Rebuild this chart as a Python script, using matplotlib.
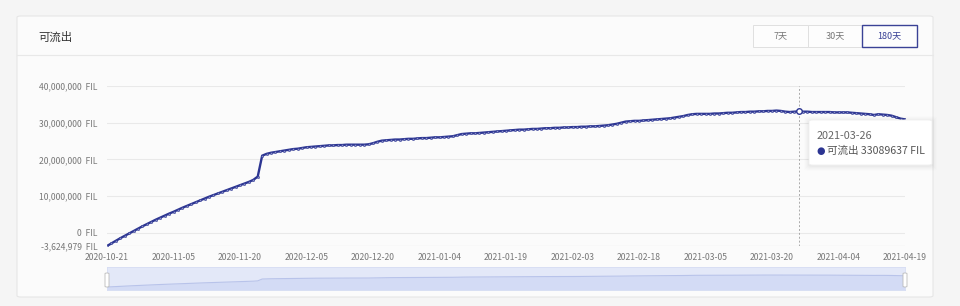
import matplotlib
matplotlib.use("Agg")
import matplotlib.pyplot as plt
from matplotlib.patches import FancyBboxPatch, Rectangle
import numpy as np
import pandas as pd

plt.rcParams['font.family'] = ['Noto Sans CJK SC', 'DejaVu Sans']

# daily values, millions of FIL, 2020-10-21 .. 2021-04-19
start_date = '2020-10-21'
values_m = [
    -3.62, -2.9, -2.2, -1.5, -0.85, -0.2, 0.45, 1.1, 1.75, 2.35,
    2.95, 3.55, 4.1, 4.65, 5.2, 5.7, 6.25, 6.8, 7.3, 7.8,
    8.3, 8.8, 9.3, 9.8, 10.25, 10.7, 11.15, 11.6, 12.05, 12.5,
    12.95, 13.4, 13.85, 14.4, 15.3, 21.0, 21.5, 21.8, 22.0, 22.2,
    22.4, 22.6, 22.8, 22.9, 23.1, 23.3, 23.4, 23.5, 23.6, 23.7,
    23.8, 23.8, 23.9, 23.9, 24.0, 24.0, 24.0, 24.0, 24.0, 24.1,
    24.4, 24.8, 25.1, 25.2, 25.3, 25.4, 25.4, 25.5, 25.6, 25.6,
    25.7, 25.8, 25.8, 25.9, 26.0, 26.0, 26.1, 26.2, 26.3, 26.6,
    26.9, 27.0, 27.1, 27.1, 27.2, 27.3, 27.4, 27.5, 27.6, 27.7,
    27.8, 27.9, 28.0, 28.1, 28.1, 28.2, 28.3, 28.3, 28.4, 28.5,
    28.5, 28.6, 28.6, 28.7, 28.7, 28.8, 28.8, 28.9, 28.9, 29.0,
    29.0, 29.1, 29.2, 29.3, 29.5, 29.7, 30.0, 30.3, 30.4, 30.5,
    30.5, 30.6, 30.7, 30.8, 30.9, 31.0, 31.1, 31.2, 31.4, 31.6,
    31.8, 32.1, 32.3, 32.4, 32.4, 32.4, 32.4, 32.5, 32.5, 32.6,
    32.7, 32.7, 32.8, 32.9, 32.9, 33.0, 33.0, 33.1, 33.1, 33.2,
    33.2, 33.3, 33.2, 33.0, 32.9, 33.0, 33.089637, 33.0, 33.0, 32.9,
    32.9, 32.9, 32.9, 32.9, 32.8, 32.8, 32.8, 32.8, 32.7, 32.6,
    32.5, 32.4, 32.3, 32.1, 32.3, 32.2, 32.1, 31.9, 31.5, 31.1,
    30.9,
]
y_ticks = [-3624979, 0, 10000000, 20000000, 30000000, 40000000]
x_tick_dates = ['2020-10-21', '2020-11-05', '2020-11-20', '2020-12-05', '2020-12-20',
                '2021-01-04', '2021-01-19', '2021-02-03', '2021-02-18', '2021-03-05',
                '2021-03-20', '2021-04-04', '2021-04-19']
buttons = ['7天', '30天', '180天']
title = '可流出'
hover_date = '2021-03-26'
hover_value = 33089637

dates = pd.date_range(start_date, periods=len(values_m), freq='D')
vals = np.array(values_m) * 1e6
vals[0] = y_ticks[0]

W, H = 960, 306
fig = plt.figure(figsize=(9.6, 3.06), dpi=100)
fig.patch.set_facecolor('#f5f5f5')

def fx(x):
    return x / W

def fy(y):
    return 1 - y / H

# card
card = FancyBboxPatch((fx(17), fy(297)), fx(916), (297 - 16) / H,
                      boxstyle='round,pad=0,rounding_size=0.004',
                      transform=fig.transFigure, facecolor='#fbfbfb',
                      edgecolor='#e6e6e6', linewidth=0.8, zorder=-5)
fig.patches.append(card)
fig.add_artist(plt.Line2D([fx(17), fx(933)], [fy(55), fy(55)], color='#e8e8e8', lw=0.8,
                          transform=fig.transFigure, zorder=-4))
fig.text(fx(38), fy(37), title, fontsize=8.2, color='#333333', va='center', ha='left',
         weight='medium')

# range buttons
bx = [753, 808, 862]
bw = [55, 54, 55]
for i, lab in enumerate(buttons):
    active = lab == '180天'
    r = Rectangle((fx(bx[i]), fy(47)), fx(bw[i]), 22 / H, transform=fig.transFigure,
                  facecolor='#fdfdfd', edgecolor='#3a4296' if active else '#e0e0e0',
                  linewidth=1.0 if active else 0.7, zorder=3 if active else 2)
    fig.patches.append(r)
    fig.text(fx(bx[i] + bw[i] / 2), fy(36), lab, fontsize=6.5,
             color='#3a4296' if active else '#777777', ha='center', va='center', zorder=4)

# main chart
ax = fig.add_axes([fx(107), fy(246), fx(905 - 107), (246 - 86) / H])
ax.set_zorder(1)
ax.set_facecolor('none')
line_color = '#2c3592'
ax.plot(dates, vals, color=line_color, lw=1.7, marker='o', ms=1.6,
        mec=line_color, mfc='#8a90c8', mew=0.4, zorder=3)
ax.set_xlim(dates[0], dates[-1])
ax.set_ylim(y_ticks[0], y_ticks[-1])
ax.set_yticks(y_ticks)
ax.set_yticklabels([f'{v:,}  FIL' for v in y_ticks])
ax.set_xticks(pd.to_datetime(x_tick_dates))
ax.set_xticklabels(x_tick_dates)
ax.grid(axis='y', color='#e9e9e9', lw=0.8)
ax.tick_params(axis='both', length=0, labelsize=6.2, colors='#777777')
ax.tick_params(axis='y', pad=7)
ax.tick_params(axis='x', pad=5)
for s in ax.spines.values():
    s.set_visible(False)
ax.axhline(y_ticks[0], color='#dddddd', lw=0.8)

# hover crosshair + point
hd = pd.Timestamp(hover_date)
ax.axvline(hd, color='#aaaaaa', lw=0.7, ls=(0, (2, 2)))
ax.plot([hd], [hover_value], marker='o', ms=4, mfc='white', mec=line_color, mew=1, zorder=4)

# tooltip with soft shadow
for k, a in [(5, 0.008), (4, 0.01), (3, 0.012), (2, 0.015), (1, 0.018)]:
    fig.patches.append(FancyBboxPatch((fx(809 - k), fy(165 + k + 1)), fx(123 + 2 * k),
                                      (45 + 2 * k) / H,
                                      boxstyle='round,pad=0,rounding_size=0.006',
                                      transform=fig.transFigure, facecolor='black',
                                      alpha=a, lw=0, zorder=9))
tip = FancyBboxPatch((fx(809), fy(165)), fx(123), 45 / H,
                     boxstyle='round,pad=0,rounding_size=0.004',
                     transform=fig.transFigure, facecolor='white',
                     edgecolor='#efefef', linewidth=0.6, zorder=10)
fig.patches.append(tip)
fig.text(fx(817), fy(136), hover_date, fontsize=7.8, color='#666666', va='center', zorder=11)
fig.text(fx(816), fy(151), '●', fontsize=7, color=line_color, va='center', zorder=11,
         family=['DejaVu Sans'])
fig.text(fx(827), fy(151), f'{title} {hover_value} FIL', fontsize=7.6, color='#555555',
         va='center', zorder=11)

# data zoom slider
sx = fig.add_axes([fx(107), fy(290), fx(905 - 107), 23.5 / H])
sx.set_zorder(1)
sx.set_facecolor('#e3e8f8')
s_lo, s_hi = -12.8e6, 59.5e6
sx.fill_between(dates, vals, s_lo, color='#d3dbf5', lw=0)
sx.plot(dates, vals, color='#b8c3ea', lw=0.8)
sx.set_xlim(dates[0], dates[-1])
sx.set_ylim(s_lo, s_hi)
sx.set_xticks([])
sx.set_yticks([])
for s in sx.spines.values():
    s.set_color('#d6ddf3')
    s.set_linewidth(0.6)
for hx in [107, 905]:
    fig.patches.append(FancyBboxPatch((fx(hx - 2), fy(287)), fx(4), 14 / H,
                                      boxstyle='round,pad=0,rounding_size=0.002',
                                      transform=fig.transFigure, facecolor='white',
                                      edgecolor='#bbbbbb', linewidth=0.6, zorder=5))

fig.savefig('out.png', dpi=100, facecolor=fig.get_facecolor())
